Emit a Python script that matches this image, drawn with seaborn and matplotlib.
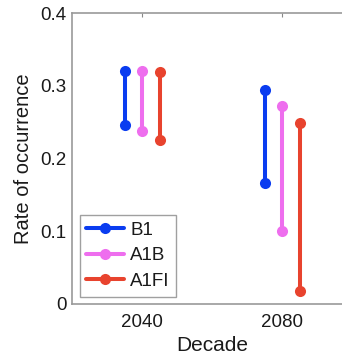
import matplotlib
matplotlib.use("Agg")
import matplotlib.pyplot as plt
import seaborn as sns
import pandas as pd
from matplotlib.lines import Line2D

scenarios = ["B1", "A1B", "A1FI"]
decades = [2040, 2080]
low_2040 = [0.246, 0.238, 0.225]
high_2040 = [0.320, 0.321, 0.319]
low_2080 = [0.167, 0.101, 0.018]
high_2080 = [0.295, 0.273, 0.249]
colors = ["#0a3cf0", "#ee6eee", "#e8432e"]
xticks = [2040, 2080]
yticks = [0, 0.1, 0.2, 0.3, 0.4]
ytick_labels = ["0", "0.1", "0.2", "0.3", "0.4"]

offsets = {"B1": -5, "A1B": 0, "A1FI": 5}
rows = []
for d, lows, highs in [(2040, low_2040, high_2040), (2080, low_2080, high_2080)]:
    for s, lo, hi in zip(scenarios, lows, highs):
        for v in (lo, hi):
            rows.append({"scenario": s, "decade": d, "x": d + offsets[s],
                         "value": v, "seg": f"{s}-{d}"})
df = pd.DataFrame(rows)

sns.set_style("white")
plt.rcParams["font.family"] = ["Liberation Sans", "DejaVu Sans"]
plt.rcParams["text.color"] = "#1a1a1a"
plt.rcParams["axes.labelcolor"] = "#1a1a1a"
plt.rcParams["xtick.labelcolor"] = "#1a1a1a"
plt.rcParams["ytick.labelcolor"] = "#1a1a1a"

fig = plt.figure(figsize=(3.42, 3.60), dpi=100)
ax = fig.add_axes([72 / 342, 56 / 360, 280 / 342, 290.7 / 360])

lw = 2.9
ms = 8
sns.lineplot(data=df, x="x", y="value", hue="scenario", units="seg",
             estimator=None, palette=dict(zip(scenarios, colors)),
             hue_order=scenarios, marker="o", markersize=ms,
             markeredgewidth=0, linewidth=lw, ax=ax, legend=False)

ax.set_xlim(2020, 2100)
ax.set_ylim(0, 0.4)
ax.set_xticks(xticks)
ax.set_xticklabels([str(t) for t in xticks])
ax.set_yticks(yticks)
ax.set_yticklabels(ytick_labels)
ax.tick_params(axis="both", direction="in", length=3, width=0.8, color="#888888",
               labelsize=13.5, top=True, right=False, pad=4)
ax.tick_params(axis="x", pad=7)
ax.tick_params(axis="y", pad=4)
for name, sp in ax.spines.items():
    sp.set_color("#999999")
    sp.set_linewidth(1.2)
ax.spines["right"].set_visible(False)
ax.set_xlabel("Decade", fontsize=15, labelpad=4)
ax.set_ylabel("Rate of occurrence", fontsize=14.5, labelpad=5)

handles = [Line2D([0], [0], color=c, lw=lw, marker="o", markersize=ms,
                  markeredgewidth=0) for c in colors]
leg = ax.legend(handles, scenarios, loc="lower left", fontsize=13.5,
                frameon=True, fancybox=False, borderaxespad=0.4,
                handlelength=2.0, handletextpad=0.35, labelspacing=0.45,
                borderpad=0.35, bbox_to_anchor=(0.0, 0.0))
leg.get_frame().set_edgecolor("#888888")
leg.get_frame().set_linewidth(1.0)

fig.savefig("out.png", dpi=100)
